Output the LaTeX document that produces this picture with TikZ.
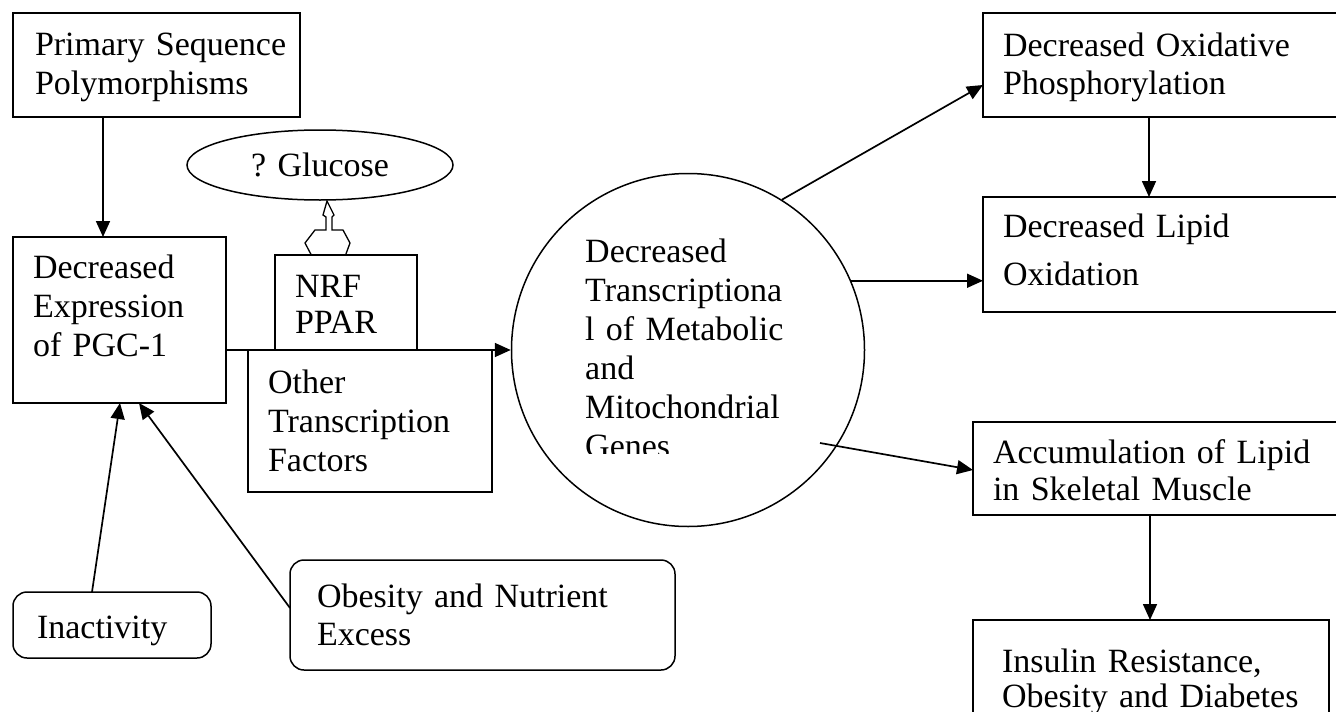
\documentclass[tikz,border=0pt]{standalone}
\usepackage{fontspec}
\setmainfont{Liberation Serif}
\usetikzlibrary{arrows.meta,shapes.geometric,calc}
\newcommand{\diagfont}{\fontsize{34}{39}\selectfont}

\begin{document}
\begin{tikzpicture}[x=1pt, y=-1pt,
  box/.style={draw, rectangle, line width=1.5pt, align=left, inner ysep=0pt, outer sep=0pt, anchor=north west, font=\diagfont},
  rbox/.style={box, rounded corners=14pt},
  arr/.style={line width=1.7pt, -{Triangle[length=16pt,width=14pt]}}]
\clip (0,0) rectangle (1336,712);
\fill[white] (0,0) rectangle (1336,712);
% --- Left column ---
\node[box, text width=243pt, inner xsep=22pt, text height=42pt, text depth=62pt] (pss) at (13,13) {\mbox{Primary Sequence}\\Polymorphisms};
\node[box, text width=173pt, inner xsep=20pt, text height=41pt, text depth=125pt] (pgc) at (13,237) {Decreased\\Expression\\of PGC-1};
\node[rbox, text width=150pt, inner xsep=24pt, text height=46pt, text depth=20pt] (inact) at (13,592) {Inactivity};
\node[rbox, text width=331pt, inner xsep=27pt, text height=47pt, text depth=63pt] (obes) at (290,560) {Obesity and Nutrient\\[-1pt]Excess};
%
% --- Glucose and factors ---
\draw[line width=1.3pt, fill=white] (327,201) -- (334,215) -- (332,217) -- (332,230) -- (343,230) -- (350,243) -- (343,262)
  -- (315,262) -- (305,243) -- (315,230) -- (326,230) -- (326,217) -- (323,215) -- cycle; % up-down arrow
\node[ellipse, draw, line width=1.5pt, fill=white, minimum width=266pt, minimum height=70pt, inner sep=0pt, font=\diagfont] (glucose) at (320,165) {? Glucose};
\node[box, fill=white, text width=102pt, inner xsep=20pt, text height=42pt, text depth=53pt] (nrf) at (275,255) {NRF\\[-3pt]PPAR};
\node[box, text width=204pt, inner xsep=20pt, text height=43pt, text depth=99pt] (otf) at (248,350) {Other\\Transcription\\Factors};
%
% --- Hub ---
\node[circle, draw, line width=1.5pt, minimum size=353pt, inner sep=0pt] (genes) at (688,350) {};
\begin{scope}
\clip (500,180) rectangle (880,453);
\node[font=\diagfont, align=left, text width=260pt, inner sep=0pt, anchor=base west] (genestext) at (585,262) {Decreased\\Transcriptiona\\l of Metabolic\\and\\Mitochondrial\\Genes};
\end{scope}
%
% --- Right column ---
\node[box, text width=323pt, inner xsep=20pt, text height=43pt, text depth=61pt] (dop) at (983,13) {Decreased Oxidative\\Phosphorylation};
\node[box, text width=323pt, inner xsep=20pt, text height=40pt, text depth=75pt] (dlo) at (983,197) {Decreased Lipid\\[9pt]Oxidation};
\node[box, text width=333pt, inner xsep=20pt, text height=41pt, text depth=52pt] (alsm) at (973,422) {Accumulation of Lipid\\[-2pt]in Skeletal Muscle};
\node[box, text width=298pt, inner xsep=29pt, text height=52pt, text depth=53pt] (irod) at (973,620) {\mbox{Insulin Resistance,}\\[-4pt]\mbox{Obesity and Diabetes}};
%
% --- Edges ---
\draw[arr] (pss.south -| 103,0) -- (pgc.north -| 103,0);
\draw[arr] (inact.north -| 92,0) -- (pgc.south -| 120,0);
\draw[arr] (obes.west |- 0,608) -- (pgc.south -| 139,0);
\draw[arr] (pgc.east |- genes.west) -- (genes.west);
%
\draw[arr] (genes.58) -- (dop.west |- 0,85);
\draw[arr] (genes.23) -- (genes.23 -| dlo.west);
\draw[arr] ($(genes.center)+(132,93)$) -- (alsm.west |- 0,470);
\draw[arr] (dop.south -| 1149,0) -- (dlo.north -| 1149,0);
\draw[arr] (alsm.south -| 1150,0) -- (irod.north -| 1150,0);
%
\end{tikzpicture}
\end{document}
